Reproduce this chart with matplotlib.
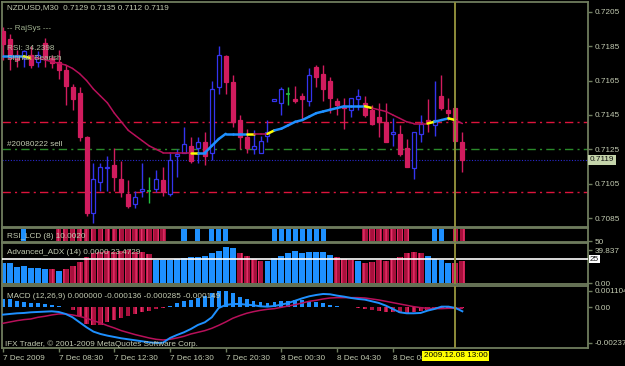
import numpy as np
import matplotlib
matplotlib.use('Agg')
import matplotlib.pyplot as plt
from matplotlib.collections import LineCollection
from matplotlib.transforms import blended_transform_factory as blend

# ---------------- data ----------------
symbol_header = 'NZDUSD,M30  0.7129 0.7135 0.7112 0.7119'
time_labels = ['7 Dec 2009', '7 Dec 08:30', '7 Dec 12:30', '7 Dec 16:30',
               '7 Dec 20:30', '8 Dec 00:30', '8 Dec 04:30', '8 Dec 08:30']
time_label_bars = [0, 8, 16, 24, 32, 40, 48, 56]
cursor_bar = 65
cursor_label = '2009.12.08 13:00'

price_ticks = [0.7205, 0.7185, 0.7165, 0.7145, 0.7125, 0.7105, 0.7085]
bid_price = 0.7119
level_red = [0.7141, 0.7100]
level_green = 0.7125

opens = [0.7194, 0.7189, 0.7180, 0.7178, 0.7180, 0.7176, 0.7187, 0.7178, 0.7176, 0.7171,
         0.7161, 0.7158, 0.7132, 0.7088, 0.7106, 0.7114, 0.7116, 0.7108, 0.7099, 0.7093,
         0.7101, 0.7101, 0.7102, 0.7107, 0.7099, 0.7121, 0.7123, 0.7127, 0.7126, 0.7129,
         0.7123, 0.7161, 0.7179, 0.7164, 0.7142, 0.7132, 0.7125, 0.7123, 0.7133, 0.7153,
         0.7152, 0.7157, 0.7154, 0.7156, 0.7153, 0.7173, 0.7169, 0.7165, 0.7153, 0.7150,
         0.7148, 0.7154, 0.7152, 0.7148, 0.7144, 0.7141, 0.7134, 0.7134, 0.7126, 0.7114,
         0.7134, 0.7142, 0.7139, 0.7156, 0.7148, 0.7149, 0.7129]
highs = [0.7196, 0.7192, 0.7183, 0.7183, 0.7185, 0.7182, 0.7190, 0.7180, 0.7183, 0.7174,
         0.7163, 0.7161, 0.7133, 0.7117, 0.7117, 0.7121, 0.7126, 0.7118, 0.7107, 0.7101,
         0.7117, 0.7109, 0.7113, 0.7115, 0.7123, 0.7125, 0.7138, 0.7132, 0.7132, 0.7135,
         0.7165, 0.7185, 0.7180, 0.7168, 0.7145, 0.7137, 0.7136, 0.7133, 0.7142, 0.7154,
         0.7161, 0.7161, 0.7162, 0.7158, 0.7172, 0.7174, 0.7174, 0.7167, 0.7155, 0.7155,
         0.7155, 0.7160, 0.7156, 0.7151, 0.7152, 0.7152, 0.7143, 0.7139, 0.7131, 0.7135,
         0.7145, 0.7154, 0.7165, 0.7168, 0.7155, 0.7149, 0.7135]
lows = [0.7177, 0.7171, 0.7173, 0.7173, 0.7172, 0.7173, 0.7173, 0.7172, 0.7166, 0.7151,
        0.7148, 0.7130, 0.7086, 0.7082, 0.7101, 0.7101, 0.7101, 0.7097, 0.7091, 0.7091,
        0.7097, 0.7094, 0.7100, 0.7098, 0.7098, 0.7109, 0.7123, 0.7117, 0.7117, 0.7116,
        0.7119, 0.7157, 0.7157, 0.7138, 0.7125, 0.7123, 0.7122, 0.7123, 0.7129, 0.7153,
        0.7145, 0.7151, 0.7152, 0.7142, 0.7150, 0.7161, 0.7153, 0.7146, 0.7145, 0.7137,
        0.7144, 0.7148, 0.7144, 0.7139, 0.7132, 0.7129, 0.7127, 0.7121, 0.7115, 0.7108,
        0.7129, 0.7135, 0.7133, 0.7148, 0.7142, 0.7130, 0.7112]
closes = [0.7186, 0.7178, 0.7177, 0.7182, 0.7174, 0.7180, 0.7178, 0.7175, 0.7171, 0.7162,
          0.7154, 0.7132, 0.7088, 0.7108, 0.7115, 0.7115, 0.7109, 0.7100, 0.7092, 0.7097,
          0.7102, 0.7101, 0.7108, 0.7100, 0.7119, 0.7122, 0.7128, 0.7118, 0.7129, 0.7121,
          0.7160, 0.7180, 0.7164, 0.7141, 0.7132, 0.7126, 0.7127, 0.7130, 0.7135, 0.7154,
          0.7160, 0.7157, 0.7153, 0.7154, 0.7168, 0.7167, 0.7160, 0.7155, 0.7151, 0.7149,
          0.7155, 0.7156, 0.7145, 0.7140, 0.7141, 0.7129, 0.7135, 0.7122, 0.7115, 0.7135,
          0.7140, 0.7141, 0.7142, 0.7149, 0.7146, 0.7130, 0.7119]

ma_values = [0.7179, 0.7179, 0.7179, 0.7179, 0.7178, 0.7178, 0.7177, 0.7176, 0.7175, 0.7174,
             0.7172, 0.7169, 0.7165, 0.7160, 0.7156, 0.7152, 0.7146, 0.7141, 0.7136, 0.7133,
             0.7130, 0.7127, 0.7125, 0.7123, 0.7123, 0.7123, 0.7123, 0.7123, 0.7123, 0.7123,
             0.7127, 0.7131, 0.7134, 0.7134, 0.7134, 0.7134, 0.7134, 0.7134, 0.7134, 0.7136,
             0.7137, 0.7139, 0.7141, 0.7142, 0.7144, 0.7146, 0.7147, 0.7148, 0.7149, 0.7150,
             0.7150, 0.7150, 0.7150, 0.7149, 0.7148, 0.7147, 0.7145, 0.7143, 0.7141, 0.7140,
             0.7140, 0.7140, 0.7141, 0.7142, 0.7143, 0.7142, 0.7140]
# per-segment trend of the MA: b = up, r = down, y = turning
ma_trend = 'bbby' + 'r' * 23 + 'y' + 'b' * 7 + 'y' + 'rr' + 'y' + 'b' * 13 + 'y' + 'r' * 8 + 'y' + 'bb' + 'y' + 'r'

# RSI_LCD state per bar: b = bullish, r = bearish, . = none
rsi_lcd = '...b....' + 'r' * 16 + '..b.b.bbb......' + 'b' * 8 + '.....' + 'r' * 7 + '...bb.rr'

adx_values = [20.8, 20.8, 16.7, 17.7, 15.6, 15.6, 14.6, 14.6, 12.5, 14.6,
              17.7, 21.9, 27.1, 31.3, 32.3, 33.3, 32.3, 33.3, 34.4, 32.3,
              32.3, 30.2, 24.0, 24.0, 24.0, 25.0, 26.0, 27.1, 27.1, 28.1,
              31.3, 33.3, 37.5, 36.5, 31.3, 28.1, 25.0, 22.9, 22.9, 26.0,
              28.1, 31.3, 33.3, 31.3, 32.3, 32.3, 32.3, 29.2, 27.1, 25.0,
              24.0, 22.9, 20.8, 21.9, 24.0, 22.9, 25.0, 27.1, 31.3, 32.3,
              31.3, 28.1, 25.0, 24.0, 20.8, 20.8, 22.9]
adx_dir = 'b' * 7 + 'r' + 'b' + 'r' * 13 + 'b' * 12 + 'r' * 4 + 'b' * 10 + 'rrr' + 'b' + 'r' * 9 + 'b' * 4 + 'rr'
adx_level = 25
adx_labels = ['39.837', '0.00']

macd_hist = [556, 556, 444, 333, 289, 267, 222, 178, 111, 0,
             -178, -600, -1100, -1200, -1150, -1000, -850, -720, -600, -470,
             -333, -222, -111, -44, 111, 267, 400, 489, 622, 778,
             933, 1111, 1111, 933, 711, 556, 444, 333, 289, 333,
             400, 444, 489, 489, 444, 333, 267, 178, 111, 44,
             0, -44, -111, -156, -222, -333, -333, -400, -400, -333,
             -222, -156, -111, -44, -44, -67, -44]
macd_main = [-489, -444, -400, -378, -333, -311, -289, -267, -311, -444,
             -667, -1000, -1333, -1622, -1778, -1889, -1978, -2067, -2133, -2200,
             -2267, -2333, -2378, -2356, -2044, -1844, -1667, -1444, -1178, -1000,
             -667, -44, 156, 222, 222, 178, 133, 67, 44, 89,
             178, 289, 444, 600, 733, 822, 889, 867, 778, 711,
             622, 556, 511, 400, 289, 111, -111, -333, -400, -400,
             -378, -222, -111, 44, 44, -44, -267]
macd_signal = [-1067, -978, -889, -822, -778, -667, -600, -511, -444, -444,
               -511, -600, -733, -889, -1044, -1222, -1378, -1556, -1689, -1822,
               -1933, -2044, -2133, -2178, -2133, -2044, -1933, -1778, -1667, -1556,
               -1400, -1200, -978, -733, -556, -400, -289, -200, -133, -89,
               0, 89, 178, 289, 400, 467, 556, 622, 644, 644,
               644, 644, 622, 556, 489, 400, 311, 222, 133, 44,
               -22, -67, -89, -89, -67, -67, -67]
macd_ticks = [0.001104, 0.0, -0.002371]
macd_tick_labels = ['0.001104', '0.00', '-0.002371']

# ---------------- style ----------------
BG = 'black'
BORDER = '#6f7d5e'
TXT = '#c3cbb2'
BULL = '#3434ee'
BEAR = '#d11c5e'
DOJI = '#22c040'
DODGER = '#1e90ff'
MA_RED = '#b8105a'
YEL = '#ffff00'
HATCH_FACE = '#a8103c'
HATCH_EDGE = '#e8306a'
FONT = 'Liberation Sans'
FS = 5.9

W, H = 625, 366
fig = plt.figure(figsize=(W / 100, H / 100), dpi=100, facecolor=BG)


def box(top, bottom):
    return [2 / W, (H - bottom) / H, 586 / W, (bottom - top) / H]


def px_text(x, y, s, **kw):
    kw.setdefault('color', TXT)
    kw.setdefault('fontsize', FS)
    kw.setdefault('family', FONT)
    fig.text(x / W, 1 - y / H, s, va='center', ha='left', **kw)


ax = fig.add_axes(box(2, 227))
ax_rsi = fig.add_axes(box(228, 242))
ax_adx = fig.add_axes(box(243, 284))
ax_macd = fig.add_axes(box(286, 348))

n = len(opens)
x = np.arange(n)
XL = (-1 / 6.96, 585 / 6.96)

for a in (ax, ax_rsi, ax_adx, ax_macd):
    a.set_facecolor(BG)
    a.set_xlim(*XL)
    for s in a.spines.values():
        s.set_color(BORDER)
        s.set_linewidth(1.3)
    a.tick_params(axis='x', bottom=False, labelbottom=False)
    a.yaxis.tick_right()
    a.tick_params(axis='y', colors=BORDER, labelcolor=TXT, labelsize=FS, length=3,
                  width=1, pad=1.5, direction='out')

# ---------------- main price panel ----------------
ax.set_ylim(0.7205 - (227 - 11.7) / 17200, 0.7205 + (11.7 - 2) / 17200)
ax.set_yticks(price_ticks)
ax.set_yticklabels([f'{p:.4f}' for p in price_ticks], family=FONT, fontsize=FS)

for lv in level_red:
    ax.axhline(lv, color='#dc143c', lw=1, linestyle=(0, (6, 3, 1.5, 3)), zorder=1)
ax.axhline(level_green, color='#2a8a2a', lw=1, linestyle=(0, (6, 3, 1.5, 3)), zorder=1)
ax.axhline(bid_price, color='#2a2ad0', lw=0.8, linestyle=(0, (1, 1.5)), zorder=1)

o = np.array(opens); h = np.array(highs); l = np.array(lows); c = np.array(closes)
up = c > o
dn = c < o
dj = c == o
ax.vlines(x[up], l[up], h[up], color=BULL, lw=1, zorder=3)
ax.bar(x[up], (c - o)[up], bottom=o[up], width=0.58, facecolor=BG, edgecolor=BULL, lw=0.9, zorder=4)
ax.vlines(x[dn], l[dn], h[dn], color=BEAR, lw=1, zorder=3)
ax.bar(x[dn], (o - c)[dn], bottom=c[dn], width=0.58, facecolor=BEAR, edgecolor=BEAR, lw=0.9, zorder=4)
ax.vlines(x[dj], l[dj], h[dj], color=DOJI, lw=1, zorder=3)
ax.hlines(o[dj], x[dj] - 0.3, x[dj] + 0.3, color=DOJI, lw=1.2, zorder=4)

ma = np.array(ma_values)
segs = [[(i, ma[i]), (i + 1, ma[i + 1])] for i in range(n - 1)]
cmap = {'b': DODGER, 'r': MA_RED, 'y': YEL}
wmap = {'b': 1.8, 'r': 1.1, 'y': 1.8}
lc = LineCollection(segs, colors=[cmap[t] for t in ma_trend],
                    linewidths=[wmap[t] for t in ma_trend], zorder=5, capstyle='round')
ax.add_collection(lc)

# bid box
ax.text(1.003, bid_price, f'{bid_price:.4f}', transform=blend(ax.transAxes, ax.transData),
        va='center', ha='left', fontsize=FS, family=FONT, color='#101010',
        bbox=dict(boxstyle='square,pad=0.18', fc='#c4d4aa', ec='none'), clip_on=False)

# ---------------- RSI LCD panel ----------------
ax_rsi.set_ylim(0, 1)
ax_rsi.set_yticks([0.05])
ax_rsi.set_yticklabels(['50'], family=FONT, fontsize=FS)
for i, st in enumerate(rsi_lcd):
    if st == 'b':
        ax_rsi.bar(i, 0.86, bottom=0.07, width=0.75, color=DODGER, lw=0)
    elif st == 'r':
        ax_rsi.bar(i, 0.86, bottom=0.07, width=0.8, facecolor=HATCH_FACE,
                   edgecolor=HATCH_EDGE, hatch='|||', lw=0)

# ---------------- ADX panel ----------------
ax_adx.set_ylim(-1.04, 41.67)
adx = np.array(adx_values)
for i in range(n):
    if adx_dir[i] == 'b':
        ax_adx.bar(i, adx[i], width=0.85, color=DODGER, lw=0)
    else:
        ax_adx.bar(i, adx[i], width=0.85, facecolor=HATCH_FACE, edgecolor=HATCH_EDGE,
                   hatch='|||', lw=0)
ax_adx.axhline(adx_level, color='white', lw=1.2, zorder=5)
ax_adx.set_yticks([34.0, 0.0])
ax_adx.set_yticklabels(adx_labels, family=FONT, fontsize=FS)
ax_adx.text(1.003, adx_level, f'{adx_level}', transform=blend(ax_adx.transAxes, ax_adx.transData),
            va='center', ha='left', fontsize=FS, family=FONT, color='#101010',
            bbox=dict(boxstyle='square,pad=0.12', fc='white', ec='none'), clip_on=False, zorder=10)

# ---------------- MACD panel ----------------
ax_macd.set_ylim((307.3 - 348) / 15000, (307.3 - 286) / 15000)
hist = np.array(macd_hist) * 1e-6
pos = hist >= 0
ax_macd.bar(x[pos], hist[pos], width=0.55, color=DODGER, lw=0, zorder=2)
ax_macd.bar(x[~pos], hist[~pos], width=0.6, facecolor=HATCH_FACE, edgecolor=HATCH_EDGE,
            hatch='|||', lw=0, zorder=2)
ax_macd.plot(x, np.array(macd_signal) * 1e-6, color=MA_RED, lw=1.1, zorder=3)
ax_macd.plot(x, np.array(macd_main) * 1e-6, color=DODGER, lw=1.4, zorder=4)
ax_macd.set_yticks(macd_ticks)
ax_macd.set_yticklabels(macd_tick_labels, family=FONT, fontsize=FS)

ax_macd.tick_params(axis='x', bottom=True, labelbottom=True, colors=BORDER, labelcolor=TXT,
                    labelsize=FS, length=3, width=1, pad=2)
ax_macd.set_xticks(time_label_bars)
ax_macd.set_xticklabels(time_labels, family=FONT, fontsize=FS, ha='left')

ax_macd.text(cursor_bar, -0.07, cursor_label, transform=blend(ax_macd.transData, ax_macd.transAxes),
             ha='center', va='top', fontsize=FS, family=FONT, color='black',
             bbox=dict(boxstyle='square,pad=0.2', fc='#ffff00', ec='none'), clip_on=False, zorder=20)

# cursor vertical line in all panels
for a in (ax, ax_rsi, ax_adx, ax_macd):
    a.axvline(cursor_bar, color='#8e8c3a', lw=1.4, zorder=6)

# ---------------- texts ----------------
px_text(7, 8, symbol_header)
px_text(7, 29, '-- RajSys ---', color='#9fb08f')
px_text(7, 48, 'RSI: 34.2398', color='#b0bca0')
px_text(7, 58, 'Signal: Bearish', color='#b0bca0')
px_text(7, 144, '#20080222 sell')
px_text(7, 236, 'RSI_LCD (8) 10.0020')
px_text(7, 252, 'Advanced_ADX (14) 0.0000 23.4729')
px_text(7, 296, 'MACD (12,26,9) 0.000000 -0.000136 -0.000285 -0.000149')
px_text(5, 344, 'IFX Trader, \u00a9 2001-2009 MetaQuotes Software Corp.')

fig.savefig('out.png', dpi=100, facecolor=BG)
